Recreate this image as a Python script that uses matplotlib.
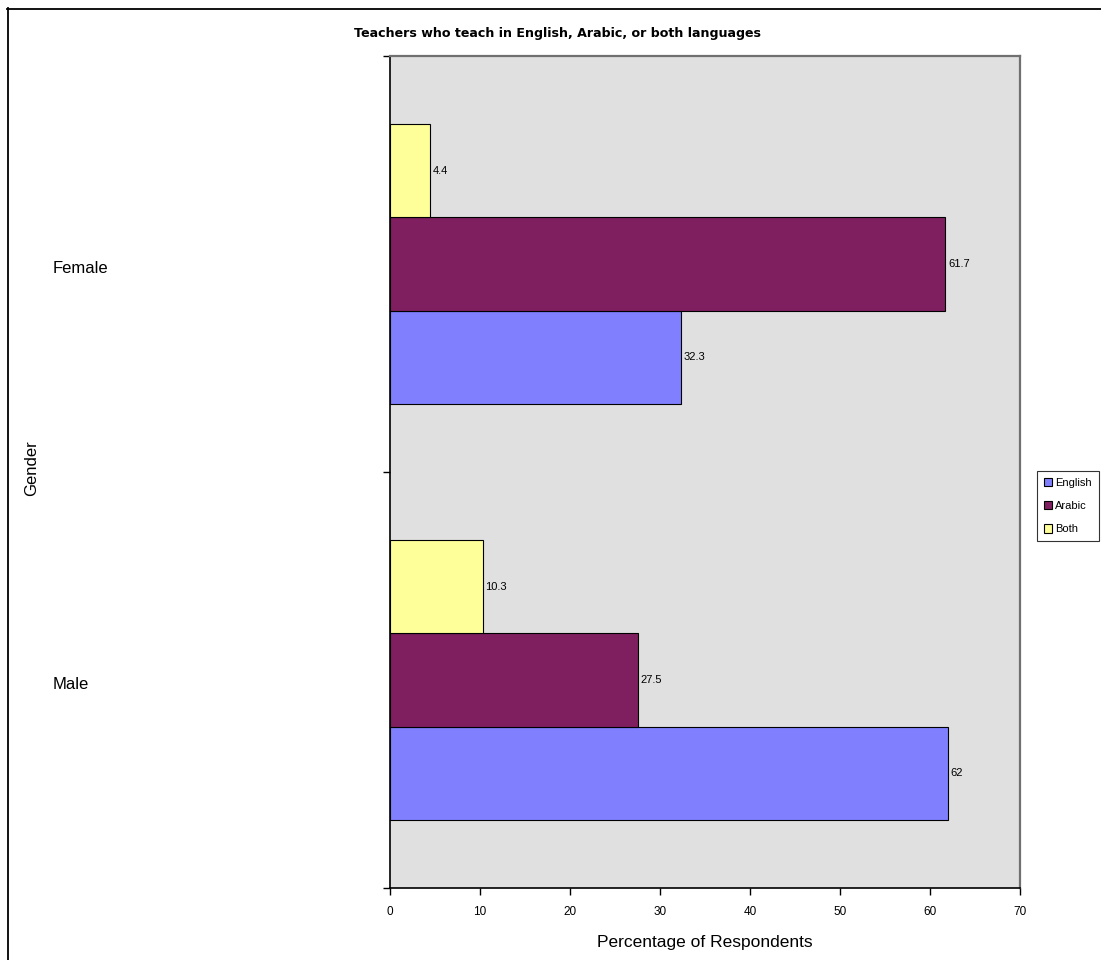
import matplotlib
matplotlib.use("Agg")
import matplotlib.pyplot as plt
import numpy as np

# Data
genders = ["Male", "Female"]
series = ["English", "Arabic", "Both"]
english = [62, 32.3]
arabic = [27.5, 61.7]
both = [10.3, 4.4]
x_ticks = [0, 10, 20, 30, 40, 50, 60, 70]

colors = {"English": "#8080FF", "Arabic": "#801F5F", "Both": "#FFFF99"}
values = {"English": english, "Arabic": arabic, "Both": both}

plt.rcParams["font.family"] = ["Liberation Sans", "DejaVu Sans"]

W, H = 1101, 960
fig = plt.figure(figsize=(W / 100, H / 100), dpi=100)
fig.patch.set_facecolor("white")

# Outer chart border (left and top edges visible)
fig.add_artist(plt.Line2D([7.5 / W, 7.5 / W], [0, 1 - 8 / H], transform=fig.transFigure,
                          color="black", lw=1.3))
fig.add_artist(plt.Line2D([7 / W, 1], [1 - 8.5 / H, 1 - 8.5 / H], transform=fig.transFigure,
                          color="black", lw=1.3))

left, right, top, bottom = 390, 1020, 56, 888
ax = fig.add_axes([left / W, 1 - bottom / H, (right - left) / W, (bottom - top) / H])
ax.set_facecolor("#E0E0E0")

bar_h = 0.224
y = np.arange(len(genders))
offsets = {"English": -bar_h, "Arabic": 0.0, "Both": bar_h}
for s in series:
    bars = ax.barh(y + offsets[s], values[s], height=bar_h, color=colors[s],
                   edgecolor="black", linewidth=0.8, label=s, zorder=3)
    for rect, v in zip(bars, values[s]):
        ax.text(rect.get_width() + 0.3, rect.get_y() + rect.get_height() / 2,
                f"{v:g}", va="center", ha="left", fontsize=8, color="black", zorder=4)

ax.set_xlim(0, 70)
ax.set_ylim(-0.5, 1.5)
ax.set_xticks(x_ticks)
ax.set_xticklabels([str(t) for t in x_ticks], fontsize=8.5)
ax.tick_params(axis="x", direction="out", length=5, width=1, pad=8, colors="black")

# Category boundary ticks on the y axis; labels placed manually
ax.set_yticks([-0.5, 0.5, 1.5])
ax.set_yticklabels([])
ax.tick_params(axis="y", direction="out", length=5, width=1)

for spine in ["left", "bottom"]:
    ax.spines[spine].set_color("black")
    ax.spines[spine].set_linewidth(1.2)
for spine in ["top", "right"]:
    ax.spines[spine].set_color("#707070")
    ax.spines[spine].set_linewidth(1.6)

blend = matplotlib.transforms.blended_transform_factory(fig.transFigure, ax.transData)
for yi, g in zip(y, genders):
    ax.text(53 / W, yi - 0.01, g, transform=blend, ha="left", va="center", fontsize=12)

fig.text(32 / W, 1 - 468 / H, "Gender", rotation=90, ha="center", va="center", fontsize=12)
fig.text(705 / W, 1 - 943 / H, "Percentage of Respondents", ha="center", va="center", fontsize=12.5)
fig.text(557 / W, 1 - 33 / H, "Teachers who teach in English, Arabic, or both languages",
         ha="center", va="center", fontsize=9.1, fontweight="bold", family="DejaVu Sans")

leg = fig.legend(loc="center left", bbox_to_anchor=(1037 / W, 1 - 506 / H), fontsize=8,
                 frameon=True, fancybox=False, edgecolor="black", handlelength=0.75,
                 handleheight=0.75, handletextpad=0.3, labelspacing=1.2, borderpad=0.6,
                 borderaxespad=0)
leg.get_frame().set_linewidth(0.8)
for h in leg.legend_handles:
    h.set_linewidth(0.8)

fig.savefig("out.png", dpi=100, facecolor="white")
